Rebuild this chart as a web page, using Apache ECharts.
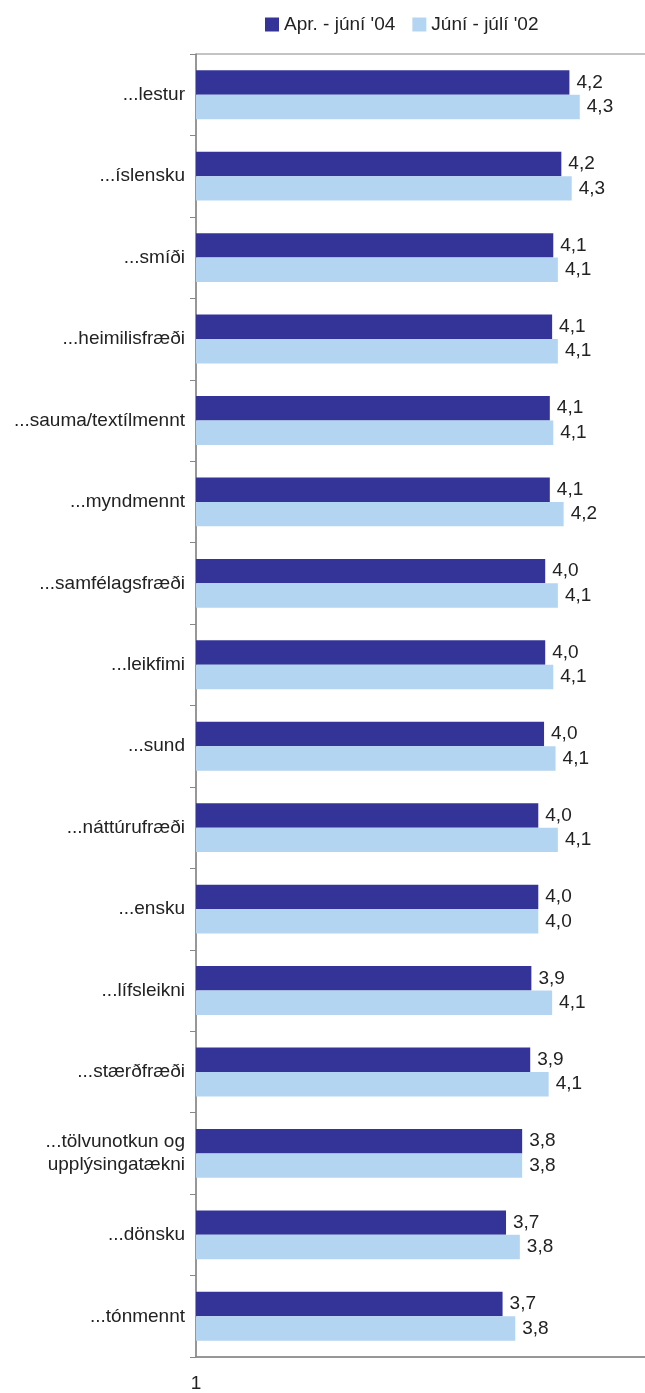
<!DOCTYPE html>
<html>
<head>
<meta charset="utf-8">
<script src="https://cdn.jsdelivr.net/npm/echarts@6/dist/echarts.min.js"></script>
<style>
html,body{margin:0;padding:0;background:#fff;}
#chart{width:645px;height:1393px;}
</style>
</head>
<body>
<div id="chart"></div>
<script>
var categories = ['...lestur','...íslensku','...smíði','...heimilisfræði','...sauma/textílmennt','...myndmennt','...samfélagsfræði','...leikfimi','...sund','...náttúrufræði','...ensku','...lífsleikni','...stærðfræði','...tölvunotkun og\nupplýsingatækni','...dönsku','...tónmennt'];
var seriesNames = ["Apr. - júní '04", "Júní - júlí '02"];
var values04 = [4.24,4.17,4.10,4.09,4.07,4.07,4.03,4.03,4.02,3.97,3.97,3.91,3.90,3.83,3.69,3.66];
var values02 = [4.33,4.26,4.14,4.14,4.10,4.19,4.14,4.10,4.12,4.14,3.97,4.09,4.06,3.83,3.81,3.77];
var tickValues = [1];

var FONT = '"Liberation Sans Narrow", "Liberation Sans", Arial, sans-serif';
var FS = 19;
var chart = echarts.init(document.getElementById('chart'), null, {renderer:'canvas'});
function fmt(p){ return p.value.toFixed(1).replace('.', ','); }
var labelStyle = {show:true, position:'right', distance:7, formatter:fmt, fontFamily:FONT, fontSize:FS, color:'#222'};
chart.setOption({
  animation:false,
  legend:{
    top:10, left:260, itemWidth:14, itemHeight:14, itemGap:17, icon:'rect',
    textStyle:{fontFamily:FONT, fontSize:FS, color:'#222'},
    data:seriesNames
  },
  grid:{left:196, top:54, width:461, bottom:36, outerBoundsMode:'none', containLabel:false, show:true, borderColor:'#888', borderWidth:1, backgroundColor:'transparent'},
  xAxis:{
    type:'value', min:1, max:5,
    axisLine:{show:true, lineStyle:{color:'#888', width:1.5}},
    axisTick:{show:false},
    splitLine:{show:false},
    axisLabel:{customValues:tickValues, margin:17, fontFamily:FONT, fontSize:FS, color:'#222'}
  },
  yAxis:{
    type:'category', inverse:true, data:categories,
    axisLine:{show:true, lineStyle:{color:'#888', width:1.5}},
    axisTick:{show:true, length:6, lineStyle:{color:'#888'}},
    axisLabel:{margin:11, fontFamily:FONT, fontSize:FS, color:'#222', lineHeight:23}
  },
  series:[
    {name:seriesNames[0], type:'bar', data:values04, barGap:'0%', barCategoryGap:'40%', itemStyle:{color:'#343498'}, label:labelStyle},
    {name:seriesNames[1], type:'bar', data:values02, itemStyle:{color:'#b4d5f2'}, label:labelStyle}
  ]
});
</script>
</body>
</html>
